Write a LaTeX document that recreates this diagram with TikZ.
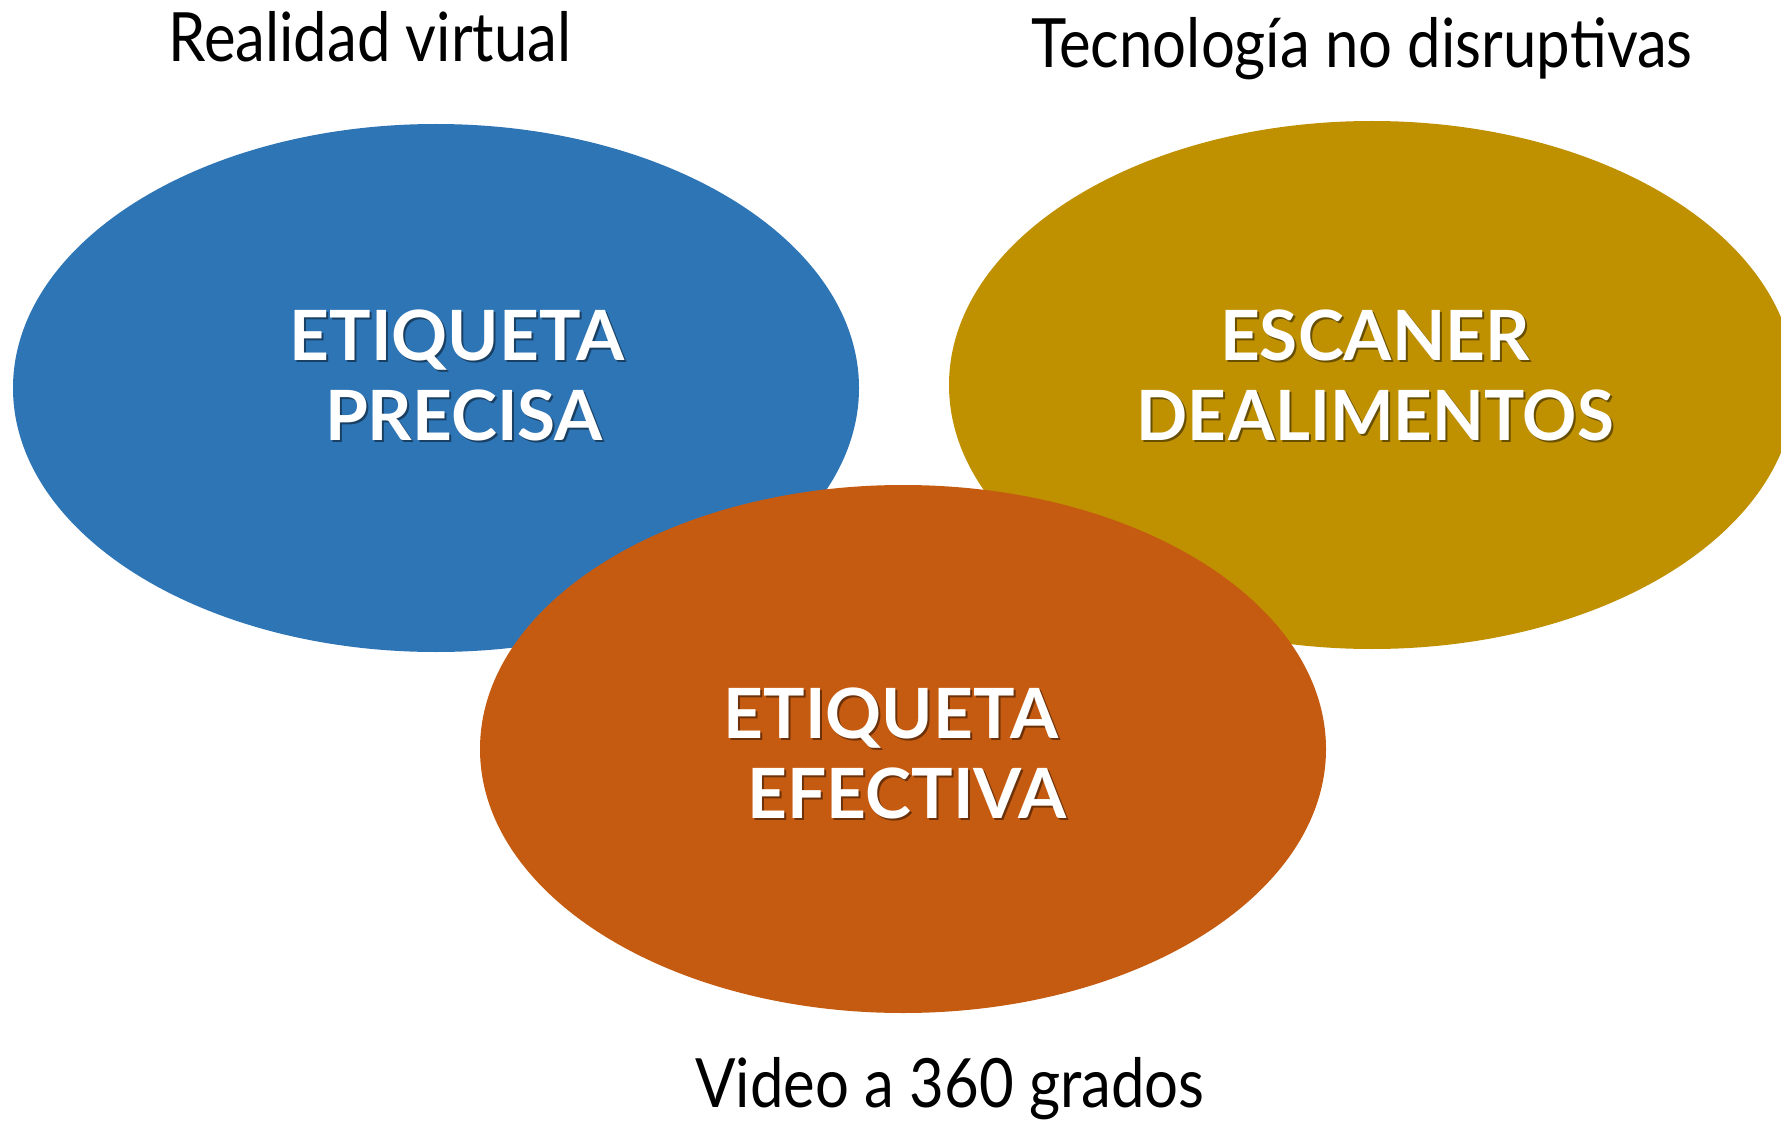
\documentclass[tikz,border=0pt]{standalone}
\usepackage{fontspec}
\setmainfont{Lato}
\usetikzlibrary{shapes.geometric}
\definecolor{cblue}{HTML}{2E75B6}
\definecolor{cgold}{HTML}{BF9000}
\definecolor{corange}{HTML}{C55A11}
\tikzset{
  blob/.style={ellipse, minimum width=634.5pt, minimum height=396pt, inner sep=0pt, draw=none},
  title/.style={anchor=base, inner sep=0pt, font=\fontsize{51}{60}\selectfont, text=black},
  lbl/.style={anchor=base, inner sep=0pt, font=\fontsize{52}{60}\selectfont\bfseries, text=white},
  lblshadow/.style={anchor=base, inner sep=0pt, font=\fontsize{52}{60}\selectfont\bfseries, text=black, opacity=0.45},
}
\newcommand{\alimtext}{\scalebox{0.97}[1]{DE\kern2pt ALIMENTOS}}
\begin{document}
\begin{tikzpicture}[x=0.75pt,y=-0.75pt]
\useasboundingbox (0,0) rectangle (1781,1123);
\clip (0,0) rectangle (1781,1123);
\node[blob, fill=cblue] (blue) at (436,388) {};
\node[blob, fill=cgold] (gold) at (1372,385) {};
\node[blob, fill=corange] (orange) at (903,749) {};

\node[title] (t1) at (370,62) {\scalebox{0.88}[1]{Realidad virtual}};
\node[title] (t2) at (1362,68) {\scalebox{0.88}[1]{Tecnología no disruptivas}};
\node[title] (t3) at (950,1107) {\scalebox{0.88}[1]{Video a 360 grados}};

\node[lblshadow] (b1s) at (459,362) {ETIQUETA};
\node[lbl] (b1) at (457,360) {ETIQUETA};
\node[lblshadow] (b2s) at (466,442) {PRECISA};
\node[lbl] (b2) at (464,440) {PRECISA};

\node[lblshadow] (g1s) at (1377,362) {ESCANER};
\node[lbl] (g1) at (1375,360) {ESCANER};
\node[lblshadow] (g2s) at (1377,442) {\alimtext};
\node[lbl] (g2) at (1375,440) {\alimtext};

\node[lblshadow] (o1s) at (893,740) {ETIQUETA};
\node[lbl] (o1) at (891,738) {ETIQUETA};
\node[lblshadow] (o2s) at (909,820) {EFECTIVA};
\node[lbl] (o2) at (907,818) {EFECTIVA};
\end{tikzpicture}
\end{document}
